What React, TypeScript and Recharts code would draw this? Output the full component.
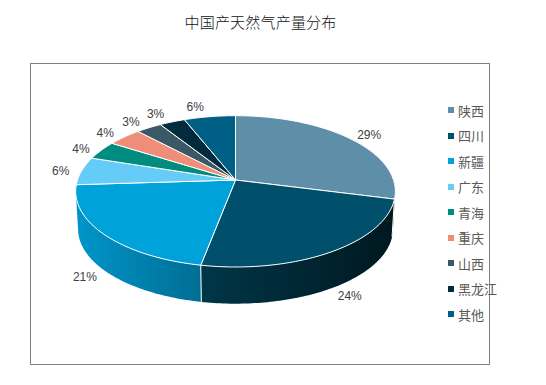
import React from "react";
import { PieChart, Pie, Legend } from "recharts";

const categories = ["陕西", "四川", "新疆", "广东", "青海", "重庆", "山西", "黑龙江", "其他"];
const shares = [29, 24, 21, 6, 4, 4, 3, 3, 6];
const colors = ["#5f8fa8", "#004f6b", "#00a2da", "#65ccf7", "#008c7e", "#ef8e78", "#3a5866", "#022c3e", "#005f85"];
const title = "中国产天然气产量分布";

const table = categories.map((name, i) => ({ name, value: shares[i], fill: colors[i] }));

// Perspective view of the pie disc
const TILT = 0.15;
const SQUASH = 0.468;
const DEPTH = 36;
const FLOOR_SCALE = 0.985;
const RAD = Math.PI / 180;

const clock = (deg: number) => 90 - deg;

function project(cx: number, cy: number, r: number, theta: number, floor = false) {
  const u = Math.sin(theta * RAD);
  const v = -Math.cos(theta * RAD);
  const d = 1 - TILT * v;
  const x = (r * u) / d;
  const y = (r * SQUASH * v) / d;
  return floor
    ? { x: cx + x * FLOOR_SCALE, y: cy + y * FLOOR_SCALE + DEPTH + 2 }
    : { x: cx + x, y: cy + y };
}

function arc(cx: number, cy: number, r: number, a: number, b: number, floor = false) {
  const n = Math.max(2, Math.ceil(Math.abs(b - a)));
  const pts: string[] = [];
  for (let i = 0; i <= n; i++) {
    const p = project(cx, cy, r, a + ((b - a) * i) / n, floor);
    pts.push(`${p.x.toFixed(2)} ${p.y.toFixed(2)}`);
  }
  return pts;
}

const TopFace = (p: any) => {
  const a = clock(p.startAngle);
  const b = clock(p.endAngle);
  const pts = arc(p.cx, p.cy, p.outerRadius, a, b);
  const d = `M${p.cx} ${p.cy}L${pts.join("L")}Z`;
  return <path d={d} fill={p.fill} stroke="#ffffff" strokeWidth={1} strokeLinejoin="round" />;
};

const shade = (hex: string, f: number) => {
  const n = parseInt(hex.slice(1), 16);
  const c = [(n >> 16) & 255, (n >> 8) & 255, n & 255].map((v) => Math.round(v * f));
  return `rgb(${c.join(",")})`;
};

const WALL_FROM = 98.6;
const WALL_TO = 261.4;

const WallFace = (p: any) => {
  const a = Math.max(clock(p.startAngle), WALL_FROM);
  const b = Math.min(clock(p.endAngle), WALL_TO);
  if (b <= a) return <g />;
  const top = arc(p.cx, p.cy, p.outerRadius, a, b);
  const bottom = arc(p.cx, p.cy, p.outerRadius, b, a, true);
  const id = `wall-${p.index}`;
  const start = project(p.cx, p.cy, p.outerRadius, a);
  const startLow = project(p.cx, p.cy, p.outerRadius, a, true);
  return (
    <g>
      <defs>
        <linearGradient id={id} gradientUnits="userSpaceOnUse" x1={p.cx - p.outerRadius} x2={p.cx + p.outerRadius} y1={0} y2={0}>
          <stop offset="0" stopColor={shade(p.fill, 0.92)} />
          <stop offset="1" stopColor={shade(p.fill, 0.3)} />
        </linearGradient>
      </defs>
      <path d={`M${top.join("L")}L${bottom.join("L")}Z`} fill={`url(#${id})`} stroke="none" />
      {a > WALL_FROM && (
        <line x1={start.x} y1={start.y} x2={startLow.x} y2={startLow.y} stroke="#ffffff" strokeWidth={1} />
      )}
    </g>
  );
};

const SliceLabel = (p: any) => {
  const theta = clock(p.midAngle);
  const u = Math.sin(theta * RAD);
  const v = -Math.cos(theta * RAD);
  const rim = project(p.cx, p.cy, p.outerRadius, theta);
  const dx = Math.sign(u) * (13 + 8 * Math.abs(u));
  const dy = v < 0 ? -10 * v * v : DEPTH + 10 * v;
  return (
    <text x={rim.x + dx} y={rim.y + dy} textAnchor="middle" dominantBaseline="central" fontSize={12} fontFamily="'Liberation Sans', Arial, sans-serif" fill="#404040">
      {p.value}%
    </text>
  );
};

const LegendList = ({ payload }: any) => {
  const seen = new Set<string>();
  const items = (payload || []).filter((e: any) => {
    if (e.type === "none" || seen.has(e.value)) return false;
    seen.add(e.value);
    return true;
  });
  const rank = (e: any) => categories.indexOf(e.value);
  items.sort((x: any, y: any) => rank(x) - rank(y));
  return (
    <div>
      {items.map((e: any) => (
        <div key={e.value} style={{ height: 25.5, display: "flex", alignItems: "center" }}>
          <span style={{ width: 6, height: 6, background: e.color, marginRight: 4, flex: "none" }} />
          <span style={{ fontSize: 13, lineHeight: "15px", color: "#595959", fontFamily: "'Noto Sans CJK SC', sans-serif", whiteSpace: "nowrap" }}>{e.value}</span>
        </div>
      ))}
    </div>
  );
};

export default function App() {
  return (
    <div style={{ position: "absolute", left: 0, top: 0, width: 546, height: 385, background: "#fff", overflow: "hidden" }}>
      <div style={{ position: "absolute", left: 30, top: 63, width: 458, height: 300, border: "1px solid #808080" }} />
      <div style={{ position: "absolute", left: 30, width: 461, top: 12, textAlign: "center", fontSize: 15, letterSpacing: 0.2, lineHeight: "20px", color: "#111", fontFamily: "'Noto Sans CJK SC', sans-serif", fontWeight: 300 }}>
        {title}
      </div>
      <div style={{ position: "absolute", left: 0, top: 0 }}>
        <PieChart width={546} height={385} margin={{ top: 0, right: 0, bottom: 0, left: 0 }}>
          <Pie data={table} dataKey="value" nameKey="name" cx={235.5} cy={180} outerRadius={158} startAngle={90} endAngle={-270} isAnimationActive={false} legendType="none" shape={WallFace} label={false} />
          <Pie data={table} dataKey="value" nameKey="name" cx={235.5} cy={180} outerRadius={158} startAngle={90} endAngle={-270} isAnimationActive={false} shape={TopFace} label={SliceLabel} labelLine={false} />
          <Legend layout="vertical" align="right" verticalAlign="top" content={LegendList} wrapperStyle={{ left: 448, top: 97.5, width: 80, right: "auto" }} />
        </PieChart>
      </div>
    </div>
  );
}
